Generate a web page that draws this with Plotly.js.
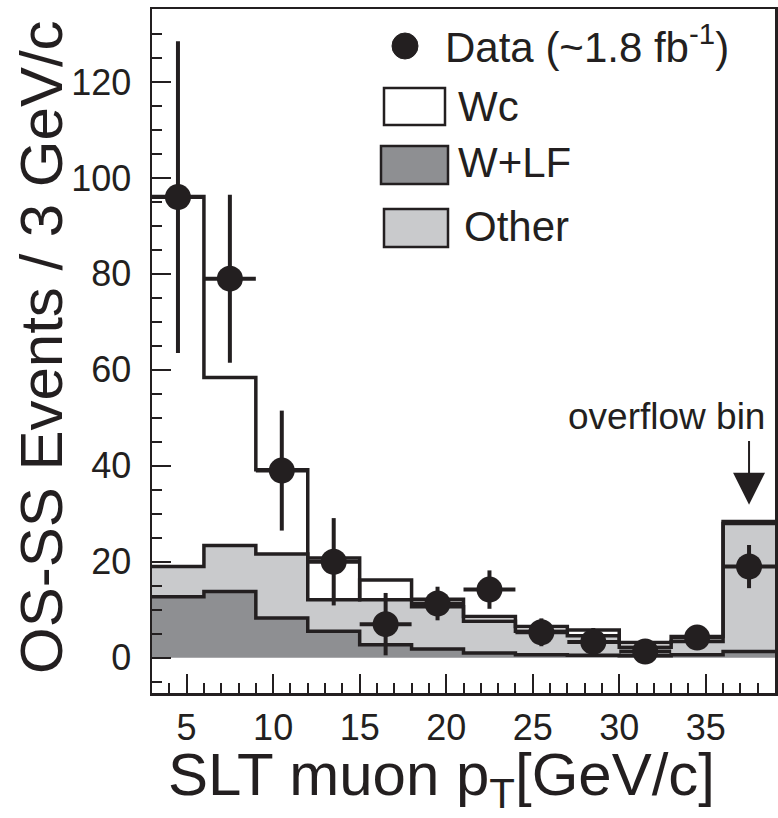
<!DOCTYPE html>
<html>
<head>
<meta charset="utf-8">
<script src="https://cdn.plot.ly/plotly-3.0.1.min.js"></script>
<style>
  html, body { margin: 0; padding: 0; background: #ffffff; }
  #chart { width: 778px; height: 818px; }
</style>
</head>
<body>
<div id="chart"></div>
<script>
// Bin edges of the SLT muon pT histogram (3 GeV/c bins, last one is the overflow bin)
const binEdges = [3, 6, 9, 12, 15, 18, 21, 24, 27, 30, 33, 36, 39];
const binCenters = [4.5, 7.5, 10.5, 13.5, 16.5, 19.5, 22.5, 25.5, 28.5, 31.5, 34.5, 37.5];

// OS-SS expectation per bin, by component (stacked: W+LF, then Other, then Wc)
const wlfCounts   = [12.7, 13.8, 8.3, 5.5, 2.7, 1.8, 1.0, 0.6, 0.5, 0.4, 0.6, 1.3];
const otherCounts = [6.3, 9.6, 13.3, 15.3, 9.4, 8.8, 6.6, 4.9, 4.1, 1.8, 2.8, 26.7];
const wcCounts    = [77.1, 35.0, 17.6, -8.7, 4.1, 1.6, 1.0, 1.0, 1.2, 1.0, 1.0, 0.4];

// Observed OS-SS data and its uncertainty
const dataCounts = [96, 79, 39, 20, 7, 11.3, 14.2, 5.3, 3.3, 1.3, 4.2, 19];
const dataErrors = [32.5, 17.5, 12.5, 9.1, 6.5, 3.5, 4.0, 2.9, 2.9, 1.5, 2.4, 4.5];
const halfBin = 1.5;

// Axis ticks
const xTickVals = [5, 10, 15, 20, 25, 30, 35];
const yTickVals = [0, 20, 40, 60, 80, 100, 120];

// Legend entries
const legendLabels = ['Data (~1.8 fb<sup>-1</sup>)', 'Wc', 'W+LF', 'Other'];
const overflowLabel = 'overflow bin';
const xTitle = 'SLT muon p<sub>T</sub>[GeV/c]';
const yTitle = 'OS-SS Events / 3 GeV/c';

const INK = '#231f20';
const DARK = '#8e8f92';
const LIGHT = '#c9cacc';
const FONT = 'Liberation Sans, Arial, Helvetica, sans-serif';

// cumulative stack tops
const stack1 = wlfCounts.slice();
const stack2 = stack1.map((v, i) => v + otherCounts[i]);
const stack3 = stack2.map((v, i) => v + wcCounts[i]);

// step outline: repeat the last value so the final bin is closed at the right edge
const steps = arr => arr.concat([arr[arr.length - 1]]);

const lineStyle = { color: INK, width: 3.5, shape: 'hv' };

const traces = [
  { x: binEdges, y: steps(stack1), type: 'scatter', mode: 'lines', name: 'W+LF',
    line: lineStyle, fill: 'tozeroy', fillcolor: DARK, hoverinfo: 'skip' },
  { x: binEdges, y: steps(stack2), type: 'scatter', mode: 'lines', name: 'Other',
    line: lineStyle, fill: 'tonexty', fillcolor: LIGHT, hoverinfo: 'skip' },
  { x: binEdges, y: steps(stack3), type: 'scatter', mode: 'lines', name: 'Wc',
    line: lineStyle, fill: 'tonexty', fillcolor: '#ffffff', hoverinfo: 'skip' },
  { x: binCenters, y: dataCounts, type: 'scatter', mode: 'markers', name: 'Data',
    marker: { color: INK, size: 26 },
    error_y: { type: 'data', array: dataErrors, visible: true, color: INK, thickness: 4, width: 0 },
    error_x: { type: 'constant', value: halfBin, visible: true, color: INK, thickness: 4, width: 0 } }
];

// plot-area geometry in pixels, used to place the hand-drawn legend
const M = { l: 152, r: 3, t: 9, b: 125 };
const PW = 778 - M.l - M.r, PH = 818 - M.t - M.b;
const px = p => (p - M.l) / PW;
const py = p => (818 - M.b - p) / PH;

const legendShapes = [
  { type: 'circle', xref: 'paper', yref: 'paper', x0: px(392), x1: px(418), y0: py(59), y1: py(33),
    fillcolor: INK, line: { color: INK, width: 1 } },
  { type: 'rect', xref: 'paper', yref: 'paper', x0: px(384), x1: px(445), y0: py(125), y1: py(88),
    fillcolor: '#ffffff', line: { color: INK, width: 2.5 } },
  { type: 'rect', xref: 'paper', yref: 'paper', x0: px(381), x1: px(448), y0: py(184), y1: py(146),
    fillcolor: DARK, line: { color: INK, width: 2.5 } },
  { type: 'rect', xref: 'paper', yref: 'paper', x0: px(384), x1: px(448), y0: py(247), y1: py(209),
    fillcolor: LIGHT, line: { color: INK, width: 2.5 } }
];

const legendText = (text, xp, yp) => ({
  text, xref: 'paper', yref: 'paper', x: px(xp), y: py(yp), xanchor: 'left', yanchor: 'middle',
  showarrow: false, font: { family: FONT, size: 42, color: INK }, borderpad: 0
});

const annotations = [
  legendText(legendLabels[0], 444, 44),
  legendText(legendLabels[1], 457, 106),
  legendText(legendLabels[2], 457, 163),
  legendText(legendLabels[3], 463, 226),
  { text: overflowLabel, xref: 'paper', yref: 'paper', x: px(767), y: py(416),
    xanchor: 'right', yanchor: 'middle', showarrow: false,
    font: { family: FONT, size: 37, color: INK } },
  { text: '', x: 37.5, y: 31.9, xref: 'x', yref: 'y', ax: 37.5, ay: 45.5, axref: 'x', ayref: 'y',
    showarrow: true, arrowhead: 2, arrowsize: 3.2, arrowwidth: 2, arrowcolor: INK, standoff: 0 },
  { text: xTitle, xref: 'paper', yref: 'paper', x: px(167), y: py(779),
    xanchor: 'left', yanchor: 'middle', showarrow: false,
    font: { family: FONT, size: 60, color: INK }, borderpad: 0 },
  { text: yTitle, xref: 'paper', yref: 'paper', x: px(42), y: py(347), textangle: -90,
    xanchor: 'center', yanchor: 'middle', showarrow: false,
    font: { family: FONT, size: 60, color: INK } }
];

const axisCommon = {
  showline: true, mirror: true, linecolor: INK, linewidth: 2.5,
  ticks: 'inside', tickcolor: INK, tickwidth: 2, ticklen: 19,
  showgrid: false, zeroline: false, fixedrange: true,
  tickfont: { family: FONT, size: 36, color: INK }
};

const layout = {
  width: 778, height: 818,
  margin: M,
  paper_bgcolor: '#ffffff', plot_bgcolor: '#ffffff',
  showlegend: false,
  font: { family: FONT, color: INK },
  xaxis: Object.assign({}, axisCommon, {
    range: [3, 39], tickvals: xTickVals, ticklabelstandoff: 1,
    minor: { dtick: 1, tick0: 0, ticks: 'inside', ticklen: 10, tickwidth: 2, tickcolor: INK, showgrid: false }
  }),
  yaxis: Object.assign({}, axisCommon, {
    range: [-7.35, 135.2], tickvals: yTickVals, ticklabelstandoff: 11,
    minor: { dtick: 5, tick0: 0, ticks: 'inside', ticklen: 10, tickwidth: 2, tickcolor: INK, showgrid: false }
  }),
  shapes: legendShapes,
  annotations: annotations
};

Plotly.newPlot('chart', traces, layout, { staticPlot: true, displayModeBar: false });
</script>
</body>
</html>
